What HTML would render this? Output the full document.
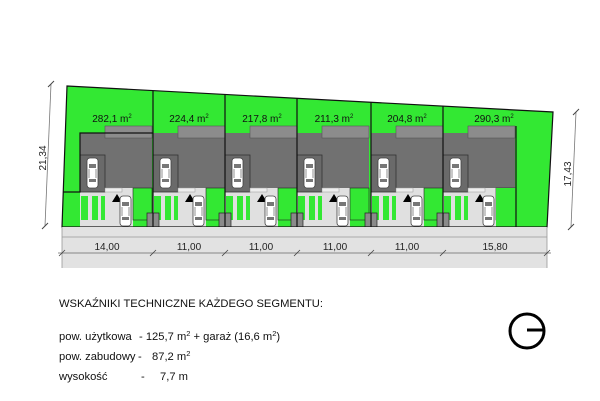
<!DOCTYPE html>
<html><head><meta charset="utf-8"><style>
html,body{margin:0;padding:0;background:#fff;}
svg{display:block;font-family:"Liberation Sans",sans-serif;}
</style></head><body>
<svg width="600" height="401" viewBox="0 0 600 401" xmlns="http://www.w3.org/2000/svg">
<defs>
<g id="car">
<rect x="0" y="0" width="11" height="30" rx="3" fill="#fff" stroke="#444" stroke-width="0.8"/>
<rect x="2" y="6" width="7" height="4" fill="#777"/>
<rect x="2" y="21" width="7" height="3" fill="#777"/>
<line x1="2" y1="11" x2="2" y2="20" stroke="#777" stroke-width="0.8"/>
<line x1="9" y1="11" x2="9" y2="20" stroke="#777" stroke-width="0.8"/>
</g>
<g id="seg">
<rect x="0" y="133" width="72" height="55" fill="#717171"/>
<rect x="25" y="126" width="47" height="12" fill="#8c8c8c" stroke="#555" stroke-width="0.6"/>
<rect x="0" y="188" width="53" height="39" fill="#e0e0e0"/>
<rect x="1" y="196" width="7" height="24" fill="#33e833"/>
<rect x="12" y="196" width="6" height="24" fill="#33e833"/>
<rect x="21" y="196" width="4" height="24" fill="#33e833"/>
<rect x="0" y="155" width="25" height="37" fill="#6a6a6a" stroke="#333" stroke-width="0.8"/>
<rect x="25" y="188" width="17" height="4" fill="#eee" stroke="#999" stroke-width="0.5"/>
<use href="#car" x="7" y="158"/>
<polygon points="32,202 37,194 42,202" fill="#000"/>
<use href="#car" x="40" y="196"/>
<rect x="53" y="188" width="19" height="32" fill="#33e833" stroke="#222" stroke-width="0.6"/>
</g>
</defs>
<polygon points="67,86 553,112 547,227 62,227" fill="#33e833"/>
<use href="#seg" x="80"/>
<use href="#seg" x="153"/>
<use href="#seg" x="225"/>
<use href="#seg" x="297"/>
<use href="#seg" x="371"/>
<use href="#seg" x="443"/>
<rect x="496" y="188" width="20" height="39" fill="#33e833"/>
<g fill="#8a8a8a" stroke="#222" stroke-width="0.7">
<rect x="147" y="213" width="12" height="14"/><rect x="219" y="213" width="12" height="14"/>
<rect x="291" y="213" width="12" height="14"/><rect x="365" y="213" width="12" height="14"/>
<rect x="437" y="213" width="12" height="14"/>
</g>
<g stroke="#111" stroke-width="1.2" fill="none">
<polygon points="67,86 553,112 547,227 62,227"/>
<line x1="153" y1="90.6" x2="153" y2="227"/>
<line x1="225" y1="94.5" x2="225" y2="227"/>
<line x1="297" y1="98.3" x2="297" y2="227"/>
<line x1="371" y1="102.3" x2="371" y2="227"/>
<line x1="443" y1="106.1" x2="443" y2="227"/>
<polyline points="63,192 80,192 80,133 153,133"/>
<line x1="516" y1="126" x2="516" y2="227"/>
</g>
<rect x="62" y="227" width="485" height="41" fill="#e2e2e2"/>
<line x1="62" y1="237" x2="547" y2="237" stroke="#999" stroke-width="0.8"/>
<line x1="62" y1="227" x2="62" y2="268" stroke="#999" stroke-width="0.8"/>
<line x1="547" y1="227" x2="547" y2="268" stroke="#999" stroke-width="0.8"/>
<line x1="58" y1="253" x2="551" y2="253" stroke="#666" stroke-width="0.8"/>
<g stroke="#444" stroke-width="0.8">
<line x1="59" y1="256" x2="65" y2="250"/><line x1="150" y1="256" x2="156" y2="250"/><line x1="222" y1="256" x2="228" y2="250"/><line x1="294" y1="256" x2="300" y2="250"/><line x1="368" y1="256" x2="374" y2="250"/><line x1="440" y1="256" x2="446" y2="250"/><line x1="544" y1="256" x2="550" y2="250"/>
</g>
<g font-size="10" fill="#222" text-anchor="middle">
<text x="107" y="250">14,00</text><text x="189" y="250">11,00</text><text x="261" y="250">11,00</text>
<text x="335" y="250">11,00</text><text x="407" y="250">11,00</text><text x="495" y="250">15,80</text>
</g>
<g font-size="10" fill="#111" text-anchor="middle">
<text x="112" y="122">282,1 m<tspan font-size="6" dy="-4">2</tspan></text>
<text x="189" y="122">224,4 m<tspan font-size="6" dy="-4">2</tspan></text>
<text x="262" y="122">217,8 m<tspan font-size="6" dy="-4">2</tspan></text>
<text x="334" y="122">211,3 m<tspan font-size="6" dy="-4">2</tspan></text>
<text x="407" y="122">204,8 m<tspan font-size="6" dy="-4">2</tspan></text>
<text x="494" y="122">290,3 m<tspan font-size="6" dy="-4">2</tspan></text>
</g>
<line x1="51" y1="84" x2="45" y2="226" stroke="#777" stroke-width="0.8"/>
<line x1="48" y1="87" x2="54" y2="81" stroke="#444"/><line x1="42" y1="229" x2="48" y2="223" stroke="#444"/>
<text x="0" y="0" font-size="10" fill="#222" text-anchor="middle" transform="translate(46,158) rotate(-90)">21,34</text>
<line x1="576" y1="112" x2="571" y2="227" stroke="#777" stroke-width="0.8"/>
<line x1="573" y1="115" x2="579" y2="109" stroke="#444"/><line x1="568" y1="230" x2="574" y2="224" stroke="#444"/>
<text x="0" y="0" font-size="10" fill="#222" text-anchor="middle" transform="translate(571,174) rotate(-90)">17,43</text>
<g font-size="11.2" fill="#111">
<text x="59" y="307">WSKAŹNIKI TECHNICZNE KAŻDEGO SEGMENTU:</text>
<text x="59" y="340">pow. użytkowa</text><text x="139" y="340">- 125,7 m<tspan font-size="7.5" dy="-4">2</tspan><tspan dy="4"> + garaż (16,6 m</tspan><tspan font-size="7.5" dy="-4">2</tspan><tspan dy="4">)</tspan></text>
<text x="59" y="360">pow. zabudowy</text><text x="138" y="360">-</text><text x="152" y="360">87,2 m<tspan font-size="7.5" dy="-4">2</tspan></text>
<text x="59" y="380">wysokość</text><text x="141" y="380">-</text><text x="160" y="380">7,7 m</text>
</g>
<circle cx="527" cy="331" r="17" fill="none" stroke="#000" stroke-width="3"/>
<line x1="527" y1="330" x2="544" y2="330" stroke="#000" stroke-width="3"/>
</svg>
</body></html>
